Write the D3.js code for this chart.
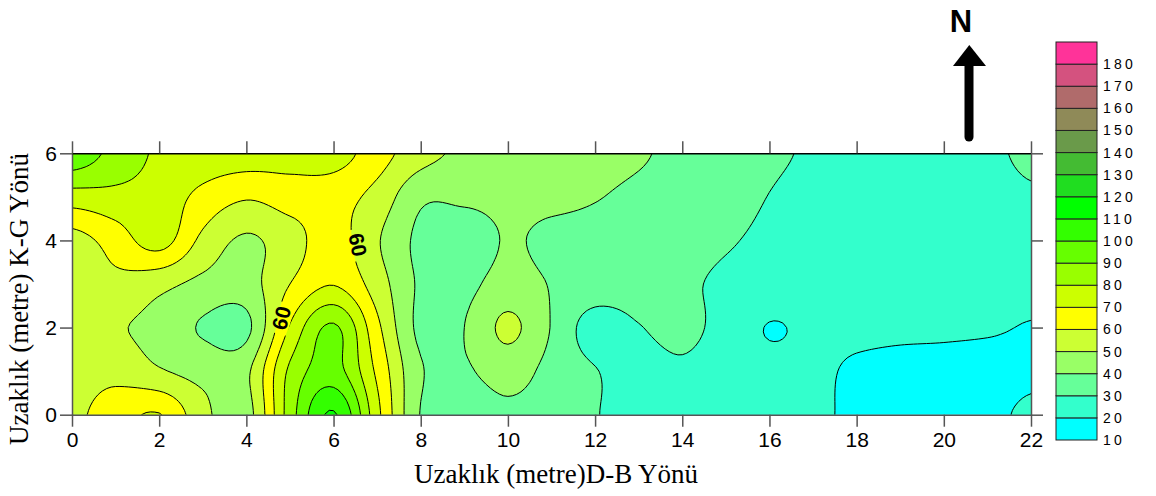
<!DOCTYPE html>
<html><head><meta charset="utf-8">
<script src="https://cdn.jsdelivr.net/npm/d3@7"></script>
<style>body{margin:0;background:#fff}svg{display:block}</style>
</head><body>
<svg id="c" width="1156" height="496"></svg>
<script>
// ---- data (measured resistivity grid, 1 m spacing) ----
const xMeters = [0,1,2,3,4,5,6,7,8,9,10,11,12,13,14,15,16,17,18,19,20,21,22];
const yMeters = [6,5,4,3,2,1,0];
const resY6 = [97,86.5,78.5,76,75,74,74.5,64.5,54,48,47,45,43,41,37.5,35,31.5,29,27,26,26.5,28,32];
const resY5 = [75.5,77,76,67,61,64.5,64,56.5,42,42,43,42.5,40.5,38,36,33.5,29.8,27.5,26,25,25,26,28.5];
const resY4 = [56,64.5,74,57.5,48.5,56,64,51,37.5,34,40.8,37.5,36.5,35,34,31,28,26,25,24.5,24,24,24];
const resY3 = [55,57.5,53,47.5,46,60,69.5,55,38.5,37.5,44,39.5,36.5,35,32,28,26,24.5,24,23.5,23,23,23];
const resY2 = [54.5,51,47,39,37.5,71,91.5,62.5,37.5,40,52,39.5,25,29.5,33,26,19.6,22,22.5,22,21.5,21,19.5];
const resY1 = [56,57,51,47,48,82,94,68,41,39,44,37,30.5,26,28,24,23,22,18.5,17,17,16.5,18];
const resY0 = [58,65,70.5,53,46,85,111,73,39.5,35,38,36,30.5,26.5,25,24,23,21.5,18.5,17,17,17.5,22];
const levels = [10,20,30,40,50,60,70,80,90,100,110,120,130,140,150,160,170,180];
const levelColors = ["#00FFFF","#33FFCC","#66FF99","#99FF66","#CCFF33","#FFFF00","#CCFF00","#99FF00","#66FF00","#33FF00","#00FF00","#20DD20","#44BB33","#6A9A4A","#8F8A58","#B06B6B","#D4527F","#FF3399"];
const xTicks = [0,2,4,6,8,10,12,14,16,18,20,22];
const yTicks = [0,2,4,6];
const contourLabels = ["60","60"];

// ---- layout ----
const W=1156,H=496;
const svg=d3.select("#c");
const x=d3.scaleLinear().domain([0,22]).range([72,1031]);
const y=d3.scaleLinear().domain([0,6]).range([414.7,153.3]);

// ---- smooth rendering surface (bicubic, clamped) ----
const grid=[resY6,resY5,resY4,resY3,resY2,resY1,resY0];
const NX=xMeters.length, NY=yMeters.length, K=10;
const nx=(NX-1)*K+1, ny=(NY-1)*K+1;
function g(i,j){i=Math.max(0,Math.min(NX-1,i));j=Math.max(0,Math.min(NY-1,j));return grid[j][i];}
function cr(p0,p1,p2,p3,t){const t2=t*t,t3=t2*t;return 0.5*(2*p1+(-p0+p2)*t+(2*p0-5*p1+4*p2-p3)*t2+(-p0+3*p1-3*p2+p3)*t3);}
const vals=new Array(nx*ny);
for(let v=0;v<ny;v++){let j=Math.floor(v/K),ty=v/K-j;if(j>=NY-1){j=NY-2;ty=1;}
  for(let u=0;u<nx;u++){let i=Math.floor(u/K),tx=u/K-i;if(i>=NX-1){i=NX-2;tx=1;}
    const r=[];for(let m=-1;m<=2;m++)r.push(cr(g(i-1,j+m),g(i,j+m),g(i+1,j+m),g(i+2,j+m),tx));
    let val=cr(r[0],r[1],r[2],r[3],ty);
    const c=[g(i,j),g(i+1,j),g(i,j+1),g(i+1,j+1)];
    val=Math.max(Math.min(...c),Math.min(Math.max(...c),val));
    vals[v*nx+u]=val;}}
const contours=d3.contours().size([nx,ny]).thresholds(levels)(vals);
const proj=d3.geoTransform({point(px,py){this.stream.point(x(xMeters[0]+(px-0.5)/K),y(yMeters[0]-(py-0.5)/K));}});
const path=d3.geoPath(proj);

const defs=svg.append("defs");
defs.append("clipPath").attr("id","clip").append("rect")
  .attr("x",x(0)).attr("y",y(6)).attr("width",x(22)-x(0)).attr("height",y(0)-y(6));
const lblPos=[{X:4.8,Y:2.22,a:-76},{X:6.56,Y:3.9,a:78}];
const mask=defs.append("mask").attr("id","lm").attr("maskUnits","userSpaceOnUse")
  .attr("x",0).attr("y",0).attr("width",W).attr("height",H);
mask.append("rect").attr("width",W).attr("height",H).attr("fill","#fff");
lblPos.forEach(p=>{mask.append("rect").attr("x",-16).attr("y",-10).attr("width",32).attr("height",20)
  .attr("fill","#000").attr("transform",`translate(${x(p.X)},${y(p.Y)}) rotate(${p.a})`);});

const gf=svg.append("g").attr("clip-path","url(#clip)");
gf.selectAll("path").data(contours).join("path")
  .attr("d",path).attr("fill",(d,i)=>levelColors[levels.indexOf(d.value)]).attr("stroke","none");
const gl=svg.append("g").attr("clip-path","url(#clip)").append("g").attr("mask","url(#lm)");
gl.selectAll("path").data(contours.filter(d=>d.value>levels[0])).join("path")
  .attr("d",path).attr("fill","none").attr("stroke","#000").attr("stroke-width",1);
lblPos.forEach((p,i)=>{svg.append("text").text(contourLabels[i])
  .attr("transform",`translate(${x(p.X)},${y(p.Y)}) rotate(${p.a})`)
  .attr("text-anchor","middle").attr("dy","0.36em")
  .attr("font-family","Liberation Sans, Arial, sans-serif").attr("font-weight","bold").attr("font-size",21);});

// ---- axes ----
const axColor="#555";
const fmt=d3.format("d");
function styleAxis(s){s.selectAll("path.domain").attr("stroke",axColor).attr("stroke-width",1.5);
  s.selectAll(".tick line").attr("stroke",axColor).attr("stroke-width",1.5);
  s.selectAll(".tick text").attr("font-family","Liberation Sans, Arial, sans-serif").attr("font-size",21).attr("fill","#000");}
svg.append("g").attr("transform",`translate(0,${y(0)})`)
  .call(d3.axisBottom(x).tickValues(xTicks).tickFormat(fmt).tickSize(12).tickPadding(5).tickSizeOuter(0)).call(styleAxis);
svg.append("g").attr("transform",`translate(${x(0)},0)`)
  .call(d3.axisLeft(y).tickValues(yTicks).tickFormat(fmt).tickSize(12).tickPadding(3).tickSizeOuter(0)).call(styleAxis);
svg.append("g").attr("transform",`translate(0,${y(6)})`)
  .call(d3.axisTop(x).tickValues(xTicks).tickSize(12).tickFormat("").tickSizeOuter(0)).call(styleAxis)
  .select("path.domain").attr("stroke","#000");
svg.append("g").attr("transform",`translate(${x(22)},0)`)
  .call(d3.axisRight(y).tickValues(yTicks).tickSize(12).tickFormat("").tickSizeOuter(0)).call(styleAxis);

svg.append("text").text("Uzaklık (metre)D-B Yönü").attr("x",556).attr("y",483)
  .attr("text-anchor","middle").attr("font-family","Liberation Serif, Times New Roman, serif").attr("font-size",27);
svg.append("text").text("Uzaklık (metre) K-G Yönü").attr("transform","translate(28,299) rotate(-90)")
  .attr("text-anchor","middle").attr("font-family","Liberation Serif, Times New Roman, serif").attr("font-size",27);

// ---- colour legend ----
const lb=d3.scaleLinear().domain([10,190]).range([440,42]);
const lg=svg.append("g");
levels.forEach((lv,i)=>{lg.append("rect").attr("x",1056).attr("y",lb(lv+10)).attr("width",41)
  .attr("height",lb(lv)-lb(lv+10)).attr("fill",levelColors[i]).attr("stroke","#222").attr("stroke-width",1);});
levels.forEach(lv=>{lg.append("text").text(lv).attr("x",1103).attr("y",lb(lv)).attr("dy","0.36em")
  .attr("font-family","Liberation Sans, Arial, sans-serif").attr("font-size",14).attr("letter-spacing",3.2);});

// ---- north arrow ----
svg.append("text").text("N").attr("x",961).attr("y",32).attr("text-anchor","middle")
  .attr("font-family","Liberation Sans, Arial, sans-serif").attr("font-weight","bold").attr("font-size",31);
svg.append("line").attr("x1",969).attr("y1",62).attr("x2",969).attr("y2",137)
  .attr("stroke","#000").attr("stroke-width",9).attr("stroke-linecap","round");
svg.append("path").attr("d","M969.3,45 L986,66 L953,66 Z").attr("fill","#000");
</script>
</body></html>
